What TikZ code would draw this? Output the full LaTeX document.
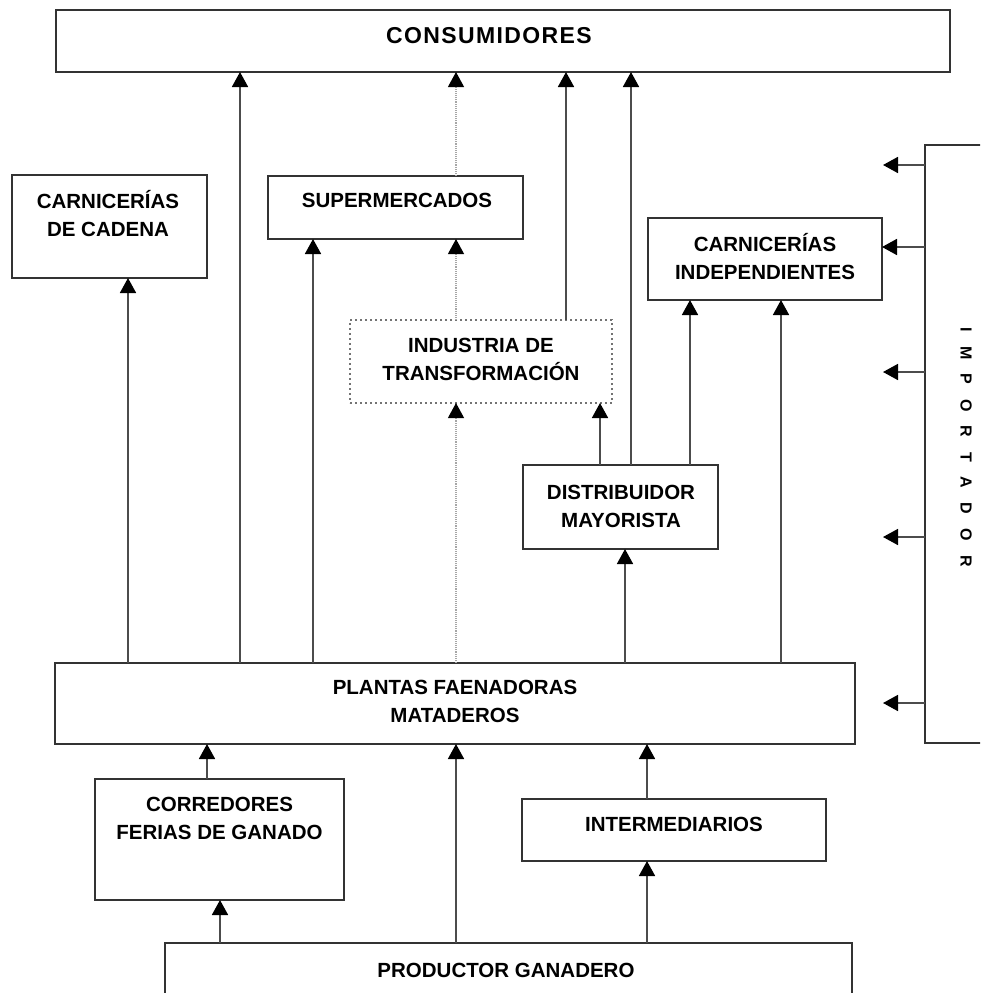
\documentclass[tikz,border=0pt]{standalone}
\usepackage{fontspec}
\setmainfont{Liberation Sans}
\usetikzlibrary{arrows.meta}
\begin{document}
\begin{tikzpicture}[x=1pt,y=-1pt,
  box/.style={draw=black!80, line width=1.8pt, fill=white, inner sep=0pt, outer sep=0pt},
  dotbox/.style={draw=black!55, line width=1.4pt, dash pattern=on 2pt off 3pt, inner sep=0pt, outer sep=0pt},
  lbl/.style={font=\fontsize{20.5}{28.5}\selectfont\bfseries, align=center, inner sep=0pt, anchor=south},
  arr/.style={draw=black!70, line width=1.7pt, -{Triangle[width=16pt,length=15pt,color=black]}},
  dotarr/.style={draw=black!35, line width=1.1pt, densely dotted, -{Triangle[width=16pt,length=15pt,color=black]}},
]
\useasboundingbox (0,0) rectangle (980,993);
\clip (0,0) rectangle (980,993);

% boxes
\node[box, minimum width=894pt, minimum height=62pt] (cons) at (503,41) {};
\node[box, minimum width=195pt, minimum height=103pt] (cadena) at (109.5,226.5) {};
\node[box, minimum width=255pt, minimum height=63pt] (super) at (395.5,207.5) {};
\node[box, minimum width=234pt, minimum height=82pt] (indep) at (765,259) {};
\node[dotbox, minimum width=262pt, minimum height=83pt] (ind) at (481,361.5) {};
\node[box, minimum width=195pt, minimum height=84pt] (dist) at (620.5,507) {};
\node[box, minimum width=800pt, minimum height=81pt] (plantas) at (455,703.5) {};
\node[box, minimum width=249pt, minimum height=121pt] (corr) at (219.5,839.5) {};
\node[box, minimum width=304pt, minimum height=62pt] (inter) at (674,830) {};
\node[box, minimum width=687pt, minimum height=70pt] (prod) at (508.5,978) {};
\node[box, minimum width=70pt, minimum height=598pt] (imp) at (960,444) {};

% labels
\node[lbl, font=\fontsize{23}{28}\selectfont\bfseries] (tcons) at (489,44) {\addfontfeature{LetterSpace=6}CONSUMIDORES};
\node[lbl] (tcadena) at (108,237) {CARNICERÍAS\\DE CADENA};
\node[lbl] (tsuper) at (397,208) {SUPERMERCADOS};
\node[lbl] (tindep) at (765,280) {CARNICERÍAS\\INDEPENDIENTES};
\node[lbl] (tind) at (481,381) {INDUSTRIA DE\\TRANSFORMACIÓN};
\node[lbl] (tdist) at (621,528) {DISTRIBUIDOR\\MAYORISTA};
\node[lbl] (tplantas) at (455,723) {PLANTAS FAENADORAS\\MATADEROS};
\node[lbl] (tcorr) at (219.5,840) {CORREDORES\\FERIAS DE GANADO};
\node[lbl] (tinter) at (674,832) {INTERMEDIARIOS};
\node[lbl] (tprod) at (506,978) {PRODUCTOR GANADERO};
\node[font=\fontsize{16}{16}\selectfont\bfseries, rotate=-90, inner sep=0pt] (timp) at (966,447)
  {{\spaceskip=14.5pt\relax I M P O R T A D O R}};

% vertical arrows
\draw[arr] (plantas.north -| 128,0) -- (cadena.south -| 128,0);
\draw[arr] (plantas.north -| 240,0) -- (cons.south -| 240,0);
\draw[arr] (plantas.north -| 313,0) -- (super.south -| 313,0);
\draw[dotarr] (plantas.north -| 456,0) -- (ind.south -| 456,0);
\draw[dotarr] (ind.north -| 456,0) -- (super.south -| 456,0);
\draw[dotarr] (super.north -| 456,0) -- (cons.south -| 456,0);
\draw[arr] (ind.north -| 566,0) -- (cons.south -| 566,0);
\draw[arr] (dist.north -| 631,0) -- (cons.south -| 631,0);
\draw[arr] (dist.north -| 600,0) -- (ind.south -| 600,0);
\draw[arr] (dist.north -| 690,0) -- (indep.south -| 690,0);
\draw[arr] (plantas.north -| 625,0) -- (dist.south -| 625,0);
\draw[arr] (plantas.north -| 781,0) -- (indep.south -| 781,0);
\draw[arr] (corr.north -| 207,0) -- (plantas.south -| 207,0);
\draw[arr] (prod.north -| 456,0) -- (plantas.south -| 456,0);
\draw[arr] (inter.north -| 647,0) -- (plantas.south -| 647,0);
\draw[arr] (prod.north -| 220,0) -- (corr.south -| 220,0);
\draw[arr] (prod.north -| 647,0) -- (inter.south -| 647,0);

% importador arrows
\coordinate (i1) at (883,165);
\coordinate (i3) at (883,372);
\coordinate (i4) at (883,537);
\coordinate (i5) at (883,703);
\draw[arr] (imp.west |- i1) -- (i1);
\draw[arr] (imp.west |- 0,247) -- (indep.east |- 0,247);
\draw[arr] (imp.west |- i3) -- (i3);
\draw[arr] (imp.west |- i4) -- (i4);
\draw[arr] (imp.west |- i5) -- (i5);
\end{tikzpicture}
\end{document}
